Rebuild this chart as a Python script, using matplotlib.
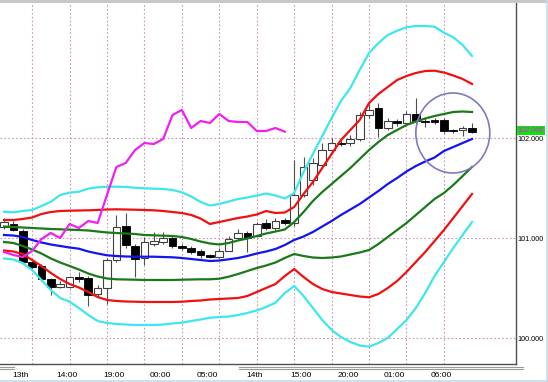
import matplotlib
matplotlib.use("Agg")
import matplotlib.pyplot as plt
from matplotlib.patches import Ellipse, Rectangle
from matplotlib.lines import Line2D
import numpy as np

# ---------------- data (hourly bars) ----------------
opens = [101.113, 101.143, 101.073, 100.763, 100.723, 100.593, 100.513, 100.513, 100.613, 100.603,
         100.443, 100.503, 100.783, 101.123, 100.923, 100.803, 100.943, 100.963, 101.003, 100.923,
         100.903, 100.873, 100.833, 100.813, 100.873, 101.003, 101.053, 101.023, 101.153, 101.103,
         101.183, 101.153, 101.433, 101.583, 101.733, 101.883, 101.953, 101.953, 101.993, 102.233,
         102.303, 102.103, 102.173, 102.153, 102.243, 102.173, 102.183, 102.183, 102.083, 102.083,
         102.103]
highs = [101.203, 101.173, 101.093, 100.773, 100.743, 100.603, 100.573, 100.623, 100.663, 100.623,
         100.533, 100.803, 101.233, 101.253, 100.943, 101.013, 101.063, 101.063, 101.023, 100.943,
         100.923, 100.893, 100.843, 100.903, 101.023, 101.093, 101.073, 101.163, 101.193, 101.203,
         101.203, 101.783, 101.813, 101.803, 101.953, 102.003, 101.993, 102.033, 102.263, 102.343,
         102.353, 102.203, 102.193, 102.273, 102.403, 102.203, 102.203, 102.203, 102.093, 102.123,
         102.153]
lows = [101.093, 101.073, 100.743, 100.693, 100.573, 100.433, 100.503, 100.503, 100.563, 100.323,
        100.413, 100.343, 100.763, 100.903, 100.613, 100.733, 100.923, 100.943, 100.903, 100.883,
        100.843, 100.803, 100.803, 100.803, 100.873, 100.983, 100.863, 101.013, 101.083, 101.083,
        101.133, 101.123, 101.413, 101.533, 101.703, 101.863, 101.923, 101.923, 101.973, 102.203,
        102.013, 102.083, 102.123, 102.133, 102.143, 102.113, 102.143, 102.053, 102.053, 102.023,
        102.053]
closes = [101.163, 101.083, 100.763, 100.713, 100.593, 100.513, 100.543, 100.613, 100.593, 100.433,
          100.503, 100.783, 101.113, 100.933, 100.793, 100.963, 100.973, 101.003, 100.923, 100.903,
          100.863, 100.833, 100.813, 100.873, 100.993, 101.053, 101.003, 101.143, 101.103, 101.173,
          101.153, 101.433, 101.713, 101.753, 101.883, 101.953, 101.943, 101.993, 102.233, 102.283,
          102.103, 102.173, 102.153, 102.243, 102.173, 102.163, 102.163, 102.073, 102.073, 102.103,
          102.066]

# Bollinger-type bands
band_up3 = [101.266, 101.260, 101.273, 101.283, 101.323, 101.366, 101.433, 101.456, 101.466, 101.496,
            101.510, 101.516, 101.516, 101.513, 101.506, 101.500, 101.496, 101.493, 101.483, 101.460,
            101.418, 101.363, 101.328, 101.343, 101.368, 101.393, 101.408, 101.428, 101.448, 101.428,
            101.398, 101.453, 101.663, 101.843, 102.023, 102.203, 102.373, 102.503, 102.683, 102.853,
            102.953, 103.033, 103.076, 103.110, 103.123, 103.123, 103.116, 103.056, 103.010, 102.933,
            102.823]
band_up2 = [101.183, 101.183, 101.193, 101.208, 101.243, 101.263, 101.273, 101.276, 101.278, 101.280,
            101.283, 101.288, 101.290, 101.288, 101.286, 101.283, 101.280, 101.273, 101.263, 101.253,
            101.233, 101.198, 101.143, 101.163, 101.183, 101.203, 101.218, 101.238, 101.273, 101.253,
            101.258, 101.313, 101.443, 101.563, 101.703, 101.843, 101.983, 102.083, 102.183, 102.353,
            102.443, 102.513, 102.583, 102.623, 102.653, 102.673, 102.676, 102.658, 102.628, 102.593,
            102.543]
band_up1 = [101.118, 101.113, 101.108, 101.103, 101.098, 101.093, 101.090, 101.086, 101.083, 101.078,
            101.068, 101.058, 101.053, 101.048, 101.043, 101.033, 101.030, 101.026, 101.023, 101.013,
            100.993, 100.968, 100.948, 100.938, 100.953, 100.978, 100.998, 101.023, 101.048, 101.068,
            101.088, 101.163, 101.263, 101.373, 101.463, 101.543, 101.623, 101.703, 101.793, 101.883,
            101.963, 102.033, 102.083, 102.133, 102.168, 102.198, 102.223, 102.243, 102.263, 102.268,
            102.263]
band_mid = [101.033, 101.028, 101.013, 100.983, 100.958, 100.938, 100.923, 100.908, 100.896, 100.868,
            100.848, 100.830, 100.823, 100.818, 100.816, 100.816, 100.816, 100.813, 100.810, 100.803,
            100.793, 100.783, 100.773, 100.778, 100.790, 100.803, 100.823, 100.848, 100.868, 100.893,
            100.933, 100.983, 101.018, 101.063, 101.118, 101.173, 101.233, 101.288, 101.343, 101.408,
            101.473, 101.543, 101.603, 101.668, 101.723, 101.768, 101.808, 101.873, 101.913, 101.953,
            101.993]
band_dn1 = [100.963, 100.953, 100.923, 100.888, 100.848, 100.798, 100.758, 100.723, 100.688, 100.648,
            100.618, 100.598, 100.590, 100.588, 100.586, 100.583, 100.583, 100.583, 100.583, 100.586,
            100.588, 100.590, 100.590, 100.596, 100.616, 100.643, 100.673, 100.703, 100.728, 100.758,
            100.803, 100.843, 100.823, 100.808, 100.803, 100.808, 100.818, 100.838, 100.858, 100.883,
            100.943, 101.013, 101.083, 101.153, 101.233, 101.313, 101.393, 101.453, 101.533, 101.623,
            101.713]
band_dn2 = [100.878, 100.868, 100.843, 100.783, 100.723, 100.653, 100.593, 100.543, 100.508, 100.463,
            100.413, 100.383, 100.373, 100.368, 100.366, 100.363, 100.363, 100.363, 100.363, 100.366,
            100.373, 100.378, 100.388, 100.393, 100.398, 100.403, 100.423, 100.463, 100.503, 100.543,
            100.623, 100.693, 100.613, 100.543, 100.493, 100.463, 100.448, 100.433, 100.418, 100.410,
            100.443, 100.503, 100.573, 100.663, 100.763, 100.863, 100.973, 101.083, 101.203, 101.323,
            101.443]
band_dn3 = [100.798, 100.788, 100.753, 100.683, 100.583, 100.483, 100.403, 100.366, 100.303, 100.233,
            100.173, 100.153, 100.143, 100.138, 100.133, 100.133, 100.133, 100.138, 100.148, 100.156,
            100.173, 100.188, 100.206, 100.213, 100.218, 100.233, 100.253, 100.278, 100.313, 100.356,
            100.453, 100.523, 100.423, 100.303, 100.183, 100.083, 100.013, 99.963, 99.928, 99.916,
            99.953, 100.003, 100.093, 100.183, 100.303, 100.453, 100.623, 100.763, 100.903, 101.033,
            101.163]

chikou_shift = 20
time_labels = ["13th", "14:00", "19:00", "00:00", "05:00", "14th", "15:00", "20:00", "01:00", "06:00"]
price_levels = [100.0, 101.0, 102.0]
current_price = 102.066

# ---------------- figure ----------------
W, H = 548, 382
fig = plt.figure(figsize=(W / 100, H / 100), dpi=100)
fig.patch.set_facecolor("white")
ax = fig.add_axes([0, 18 / H, 516 / W, 361 / H])
ax.set_facecolor("white")

n = len(closes)
x = np.arange(n)
ax.set_xlim(-0.43, 54.7)
ax.set_ylim(99.743, 103.353)

# grid
grid_col = "#c898b8"
for gx in np.arange(3, 48, 4):
    ax.axvline(gx, color=grid_col, lw=0.8, ls=(0, (1.5, 2)), zorder=0)
for lv in price_levels:
    ax.axhline(lv, color=grid_col, lw=0.8, ls=(0, (1.5, 2)), zorder=0)

# candles
o = np.array(opens); h = np.array(highs); l = np.array(lows); c = np.array(closes)
ax.vlines(x, l, h, color="#505050", lw=0.8, zorder=2)
up = c >= o
bottom = np.minimum(o, c)
height = np.maximum(np.abs(c - o), 0.008)
ax.bar(x[up], height[up], bottom=bottom[up], width=0.82, color="white",
       edgecolor="#404040", linewidth=0.8, zorder=3)
ax.bar(x[~up], height[~up], bottom=bottom[~up], width=0.82, color="black",
       edgecolor="black", linewidth=0.6, zorder=3)

# bands
lw = 1.6
ax.plot(x, band_up3, color="#3ee6ee", lw=lw, zorder=4)
ax.plot(x, band_dn3, color="#3ee6ee", lw=lw, zorder=4)
ax.plot(x, band_up2, color="#f01010", lw=lw, zorder=4)
ax.plot(x, band_dn2, color="#f01010", lw=lw, zorder=4)
ax.plot(x, band_up1, color="#1a7a1a", lw=lw, zorder=4)
ax.plot(x, band_dn1, color="#1a7a1a", lw=lw, zorder=4)
ax.plot(x, band_mid, color="#1414f0", lw=lw, zorder=4)

# chikou span (close shifted back)
ax.plot(x[:n - chikou_shift], c[chikou_shift:], color="#f020f0", lw=lw, zorder=5)

# highlight circle
ax.add_patch(Ellipse((47.95, 102.053), 7.9, 0.80, fill=False,
                     edgecolor="#8078c0", lw=1.2, zorder=6))

# spines / ticks
for s in ("left", "top"):
    ax.spines[s].set_visible(False)
for s in ("right", "bottom"):
    ax.spines[s].set_color("#505050")
    ax.spines[s].set_linewidth(1.0)
ax.set_xticks([])
ax.set_yticks([])

fam = ["Liberation Sans", "DejaVu Sans"]
xt = ax.get_xaxis_transform()
for j, lab in enumerate(time_labels):
    ax.text(1.75 + 5 * j, -0.031, lab, transform=xt, ha="center", va="center",
            fontsize=6.0, family=fam, color="black", clip_on=False)

yt = ax.get_yaxis_transform()
for lv in price_levels:
    ax.text(1.003, lv - 0.01, f"{lv:.3f}", transform=yt, ha="left", va="center",
            fontsize=5.2, family=fam, color="black", clip_on=False)
ax.text(1.003, current_price + 0.01, f"{current_price:.3f}", transform=yt, ha="left",
        va="center", fontsize=5.2, family=fam, color="#e020e0", clip_on=False, zorder=10,
        bbox=dict(boxstyle="square,pad=0.12", facecolor="#10e010", edgecolor="none"))

# window decorations
fig.add_artist(Rectangle((0, 1 - 3 / H), 1, 3 / H, transform=fig.transFigure,
                         facecolor="#c8c8c8", edgecolor="none"))
for yy in (366.5, 368.5):
    fig.add_artist(Line2D([0, 13.5 / W], [1 - yy / H] * 2, transform=fig.transFigure,
                          color="#9a9a9a", lw=0.8))
    fig.add_artist(Line2D([239 / W, 523 / W], [1 - yy / H] * 2, transform=fig.transFigure,
                          color="#9a9a9a", lw=0.8))
fig.add_artist(Line2D([546.5 / W, 546.5 / W], [0, 1], transform=fig.transFigure,
                      color="#c8d8ee", lw=1.2))
fig.add_artist(Line2D([0, 1], [1.5 / H, 1.5 / H], transform=fig.transFigure,
                      color="#c8d8ee", lw=1.2))

fig.savefig("out.png", dpi=100)
